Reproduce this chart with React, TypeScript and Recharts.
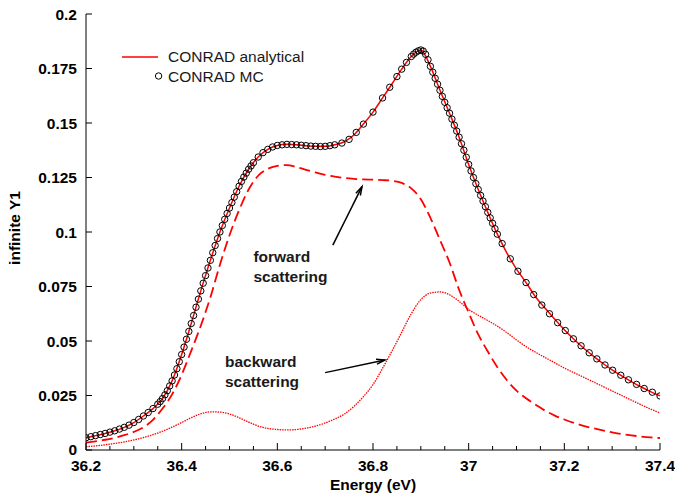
import React from 'react';
import { ComposedChart, Line, XAxis, YAxis, ReferenceLine, ReferenceDot } from 'recharts';

// energy grid for the analytical curves (eV)
const energy = [
    36.2, 36.22, 36.24, 36.26, 36.28, 36.3, 36.32, 36.34, 36.36, 36.38,
    36.4, 36.42, 36.44, 36.46, 36.48, 36.5, 36.52, 36.54, 36.56, 36.58,
    36.6, 36.62, 36.64, 36.66, 36.68, 36.7, 36.72, 36.74, 36.76, 36.78,
    36.8, 36.82, 36.84, 36.86, 36.88, 36.9, 36.92, 36.94, 36.96, 36.98,
    37.0, 37.02, 37.04, 37.06, 37.08, 37.1, 37.12, 37.14, 37.16, 37.18,
    37.2, 37.22, 37.24, 37.26, 37.28, 37.3, 37.32, 37.34, 37.36, 37.38,
    37.4,
];

const analytical = [
    0.0056, 0.0066, 0.0076, 0.0088, 0.0104, 0.0126, 0.0156, 0.019, 0.0236, 0.0317,
    0.0438, 0.058, 0.073, 0.087, 0.1, 0.111, 0.121, 0.1288, 0.1344, 0.1379,
    0.1397, 0.1402, 0.14, 0.1396, 0.1393, 0.1393, 0.14, 0.1414, 0.1445, 0.1495,
    0.155, 0.1615, 0.168, 0.1747, 0.1805, 0.1835, 0.176, 0.165, 0.1545, 0.1435,
    0.131, 0.1195, 0.109, 0.099, 0.0903, 0.083, 0.0768, 0.0702, 0.065, 0.06,
    0.0552, 0.0508, 0.0468, 0.0432, 0.0398, 0.0368, 0.034, 0.0314, 0.029, 0.0268,
    0.0248,
];

const forward = [
    0.0034, 0.004, 0.0047, 0.0056, 0.0068, 0.0083, 0.0104, 0.0138, 0.019, 0.0255,
    0.0345, 0.0455, 0.057, 0.07, 0.085, 0.0985, 0.11, 0.1195, 0.1258, 0.129,
    0.1303, 0.1307, 0.1298, 0.1285, 0.1273, 0.1262, 0.1254, 0.1248, 0.1244, 0.1241,
    0.124, 0.1238, 0.1235, 0.1225, 0.12, 0.115, 0.1065, 0.0963, 0.086, 0.0735,
    0.063, 0.053, 0.0452, 0.038, 0.032, 0.0272, 0.0237, 0.0208, 0.018, 0.0158,
    0.014, 0.0124, 0.0111, 0.01, 0.009, 0.0081, 0.0073, 0.0067, 0.0062, 0.0058,
    0.0055,
];

const backward = [
    0.0015, 0.0019, 0.0024, 0.003, 0.0037, 0.0046, 0.0057, 0.007, 0.0086, 0.0105,
    0.0126, 0.0148, 0.0166, 0.0175, 0.0174, 0.0165, 0.0148, 0.0128, 0.011, 0.0099,
    0.0094, 0.0092, 0.0094, 0.01, 0.011, 0.0124, 0.0142, 0.0165, 0.02, 0.0245,
    0.03, 0.0375, 0.0455, 0.054, 0.0625, 0.069, 0.072, 0.0725, 0.0712, 0.0682,
    0.0645, 0.0618, 0.0594, 0.0568, 0.0538, 0.0505, 0.0474, 0.0448, 0.0424, 0.04,
    0.0376, 0.0355, 0.0334, 0.0313, 0.0292, 0.0271, 0.025, 0.0229, 0.0208, 0.0188,
    0.017,
];

// Monte Carlo points (non-uniform energy grid)
const mcEnergy = [
    36.2, 36.21, 36.22, 36.23, 36.24, 36.25, 36.26, 36.27, 36.28, 36.29,
    36.3, 36.31, 36.32, 36.33, 36.34, 36.35, 36.355, 36.36, 36.365, 36.37,
    36.375, 36.38, 36.385, 36.39, 36.395, 36.4, 36.405, 36.41, 36.415, 36.42,
    36.425, 36.43, 36.435, 36.44, 36.445, 36.45, 36.455, 36.46, 36.465, 36.47,
    36.475, 36.48, 36.485, 36.49, 36.495, 36.5, 36.505, 36.51, 36.515, 36.52,
    36.525, 36.53, 36.535, 36.54, 36.545, 36.55, 36.56, 36.57, 36.58, 36.59,
    36.6, 36.61, 36.62, 36.63, 36.64, 36.65, 36.66, 36.67, 36.68, 36.69,
    36.7, 36.71, 36.72, 36.735, 36.75, 36.765, 36.78, 36.8, 36.82, 36.835,
    36.85, 36.86, 36.87, 36.88, 36.885, 36.89, 36.895, 36.9, 36.905, 36.91,
    36.915, 36.92, 36.925, 36.93, 36.935, 36.94, 36.945, 36.95, 36.955, 36.96,
    36.965, 36.97, 36.975, 36.98, 36.985, 36.99, 36.995, 37.0, 37.005, 37.01,
    37.015, 37.02, 37.025, 37.03, 37.035, 37.04, 37.045, 37.05, 37.055, 37.06,
    37.07, 37.087, 37.103, 37.12, 37.136, 37.153, 37.169, 37.186, 37.202, 37.219,
    37.235, 37.252, 37.268, 37.285, 37.301, 37.318, 37.334, 37.351, 37.367, 37.384,
    37.4,
];

const mcValue = [
    0.0056, 0.0061, 0.0066, 0.0071, 0.0076, 0.0082, 0.0088, 0.0096, 0.0104, 0.0114,
    0.0126, 0.014, 0.0156, 0.0172, 0.019, 0.021, 0.0222, 0.0236, 0.0253, 0.0272,
    0.0294, 0.0317, 0.0344, 0.0373, 0.0405, 0.0438, 0.0472, 0.0508, 0.0544, 0.058,
    0.0617, 0.0655, 0.0692, 0.073, 0.0765, 0.08, 0.0835, 0.087, 0.0905, 0.0938,
    0.097, 0.1, 0.103, 0.1058, 0.1085, 0.111, 0.1135, 0.116, 0.1185, 0.121,
    0.1232, 0.1252, 0.127, 0.1288, 0.1303, 0.1318, 0.1344, 0.1364, 0.1379, 0.139,
    0.1397, 0.14, 0.1402, 0.1401, 0.14, 0.1398, 0.1396, 0.1394, 0.1393, 0.1392,
    0.1393, 0.1396, 0.14, 0.1408, 0.1425, 0.1457, 0.1495, 0.155, 0.1615, 0.1664,
    0.1713, 0.1747, 0.1778, 0.1805, 0.1816, 0.1825, 0.1831, 0.1835, 0.183, 0.1815,
    0.179, 0.176, 0.1733, 0.1705, 0.1678, 0.165, 0.1622, 0.1595, 0.157, 0.1545,
    0.1518, 0.149, 0.1463, 0.1435, 0.1405, 0.1375, 0.1343, 0.131, 0.128, 0.125,
    0.1222, 0.1195, 0.1168, 0.1142, 0.1116, 0.109, 0.1065, 0.104, 0.1015, 0.099,
    0.0947, 0.0877, 0.082, 0.0768, 0.0713, 0.0665, 0.0625, 0.0584, 0.0548, 0.051,
    0.0478, 0.0446, 0.0418, 0.039, 0.0366, 0.0343, 0.0322, 0.0301, 0.0282, 0.0265,
    0.0248,
];

const xMajorTicks = [36.2, 36.4, 36.6, 36.8, 37, 37.2, 37.4];
const xMinorTicks = [
    36.25, 36.3, 36.35, 36.45, 36.5, 36.55, 36.65, 36.7, 36.75,
    36.85, 36.9, 36.95, 37.05, 37.1, 37.15, 37.25, 37.3, 37.35,
];
const yTicks = [0, 0.025, 0.05, 0.075, 0.1, 0.125, 0.15, 0.175, 0.2];

const lineData = energy.map((e, i) => ({
    energy: e,
    analytical: analytical[i],
    forward: forward[i],
    backward: backward[i],
}));
const mcData = mcEnergy.map((e, i) => ({ energy: e, mc: mcValue[i] }));
const xTicks = [...xMajorTicks, ...xMinorTicks].sort((a, b) => a - b);

const FONT = '"Liberation Sans", Arial, Helvetica, sans-serif';
const RED = '#ff0000';
const isMajorX = (v: number) => xMajorTicks.some((t) => Math.abs(t - v) < 1e-6);

const BottomTick = (props: any) => {
    const { x, y, payload } = props;
    const major = isMajorX(payload.value);
    return (
        <g>
            <line x1={x} y1={y} x2={x} y2={y - (major ? 7 : 4)} stroke="#000" />
            {major && (
                <text x={x} y={y + 21} textAnchor="middle" fontFamily={FONT} fontWeight="bold" fontSize={15.5} fill="#000">
                    {String(Number(payload.value.toFixed(1)))}
                </text>
            )}
        </g>
    );
};

const TopTick = (props: any) => {
    const { x, y, payload } = props;
    const major = isMajorX(payload.value);
    return <line x1={x} y1={y} x2={x} y2={y + (major ? 7 : 4)} stroke="#000" />;
};

const LeftTick = (props: any) => {
    const { x, y, payload } = props;
    // the bottom label sits a touch higher so it clears the first energy label
    const dy = payload.value === 0 ? 4.5 : 5.5;
    return (
        <g>
            <line x1={x} y1={y} x2={x + 6} y2={y} stroke="#000" />
            <text x={x - 9} y={y + dy} textAnchor="end" fontFamily={FONT} fontWeight="bold" fontSize={15.5} fill="#000">
                {String(Number(payload.value.toFixed(3)))}
            </text>
        </g>
    );
};

const RightTick = (props: any) => {
    const { x, y } = props;
    return <line x1={x} y1={y} x2={x - 6} y2={y} stroke="#000" />;
};

const Arrow = (p: any) => {
    const { x1, y1, x2, y2 } = p;
    const ang = Math.atan2(y2 - y1, x2 - x1);
    const len = 9;
    const spread = 0.28;
    const ax = x2 - len * Math.cos(ang - spread);
    const ay = y2 - len * Math.sin(ang - spread);
    const bx = x2 - len * Math.cos(ang + spread);
    const by = y2 - len * Math.sin(ang + spread);
    return (
        <g>
            <line x1={x1} y1={y1} x2={x2} y2={y2} stroke="#000" strokeWidth={1.5} />
            <polyline points={`${ax},${ay} ${x2},${y2} ${bx},${by}`} fill="none" stroke="#000" strokeWidth={1.5} />
        </g>
    );
};

const note = (lines: string[]) => (p: any) => (
    <text x={p.cx} y={p.cy} fontFamily={FONT} fontWeight="bold" fontSize={15.5} fill="#1a1a1a">
        {lines.map((l, i) => (
            <tspan key={i} x={p.cx} dy={i === 0 ? 0 : 20}>
                {l}
            </tspan>
        ))}
    </text>
);

export default function App() {
    return (
        <div style={{ position: 'relative', width: 675, height: 498 }}>
            <style>{'body{margin:0}'}</style>
            <ComposedChart width={675} height={498} data={lineData} margin={{ top: 14, right: 15, bottom: 0, left: 0 }}>
                <XAxis
                    dataKey="energy"
                    type="number"
                    domain={[36.2, 37.4]}
                    allowDataOverflow
                    ticks={xTicks}
                    interval={0}
                    height={48}
                    tickSize={0}
                    tickMargin={0}
                    tickLine={false}
                    axisLine={{ stroke: '#000' }}
                    tick={<BottomTick />}
                />
                <XAxis
                    xAxisId="top"
                    orientation="top"
                    dataKey="energy"
                    type="number"
                    domain={[36.2, 37.4]}
                    allowDataOverflow
                    ticks={xTicks}
                    interval={0}
                    height={0}
                    tickSize={0}
                    tickMargin={0}
                    tickLine={false}
                    axisLine={{ stroke: '#000' }}
                    tick={<TopTick />}
                />
                <YAxis
                    type="number"
                    domain={[0, 0.2]}
                    allowDataOverflow
                    ticks={yTicks}
                    interval={0}
                    width={86}
                    tickSize={0}
                    tickMargin={0}
                    tickLine={false}
                    axisLine={{ stroke: '#000' }}
                    tick={<LeftTick />}
                />
                <YAxis
                    yAxisId="right"
                    orientation="right"
                    type="number"
                    domain={[0, 0.2]}
                    allowDataOverflow
                    ticks={yTicks}
                    interval={0}
                    width={0}
                    tickSize={0}
                    tickMargin={0}
                    tickLine={false}
                    axisLine={{ stroke: '#000' }}
                    tick={<RightTick />}
                />
                <Line
                    data={mcData}
                    xAxisId="top"
                    dataKey="mc"
                    stroke="none"
                    dot={{ r: 3.2, stroke: '#000', strokeWidth: 1, fill: 'none' }}
                    activeDot={false}
                    isAnimationActive={false}
                />
                <Line
                    type="monotone"
                    dataKey="analytical"
                    stroke={RED}
                    strokeWidth={1.5}
                    dot={false}
                    activeDot={false}
                    isAnimationActive={false}
                />
                <Line
                    type="monotone"
                    yAxisId="right"
                    dataKey="forward"
                    stroke={RED}
                    strokeWidth={1.8}
                    strokeDasharray="11 5"
                    dot={false}
                    activeDot={false}
                    isAnimationActive={false}
                />
                <Line
                    type="monotone"
                    dataKey="backward"
                    stroke={RED}
                    strokeWidth={1.3}
                    strokeDasharray="1.5 1"
                    dot={false}
                    activeDot={false}
                    isAnimationActive={false}
                />
                <ReferenceLine
                    segment={[{ x: 36.716, y: 0.094 }, { x: 36.777, y: 0.1208 }]}
                    shape={Arrow}
                />
                <ReferenceLine
                    segment={[{ x: 36.7, y: 0.0355 }, { x: 36.825, y: 0.0413 }]}
                    shape={Arrow}
                />
                <ReferenceDot x={36.55} y={0.0862} r={0} shape={note(['forward', 'scattering'])} />
                <ReferenceDot x={36.4906} y={0.0381} r={0} shape={note(['backward', 'scattering'])} />
            </ComposedChart>
            <svg
                width={675}
                height={498}
                style={{ position: 'absolute', left: 0, top: 0, pointerEvents: 'none' }}
            >
                <line x1={122} y1={57} x2={158} y2={57} stroke={RED} strokeWidth={1.5} />
                <text x={168} y={62.3} fontFamily={FONT} fontSize={15.5} fill="#1a1a1a">
                    CONRAD analytical
                </text>
                <circle cx={158.6} cy={76} r={3.2} fill="none" stroke="#000" />
                <text x={168} y={81.7} fontFamily={FONT} fontSize={15.5} fill="#1a1a1a">
                    CONRAD MC
                </text>
                <text x={373} y={490} textAnchor="middle" fontFamily={FONT} fontWeight="bold" fontSize={15.5} fill="#000">
                    Energy (eV)
                </text>
                <text
                    transform="translate(20,228) rotate(-90)"
                    textAnchor="middle"
                    fontFamily={FONT}
                    fontWeight="bold"
                    fontSize={15.5}
                    fill="#000"
                >
                    infinite Y1
                </text>
            </svg>
        </div>
    );
}
